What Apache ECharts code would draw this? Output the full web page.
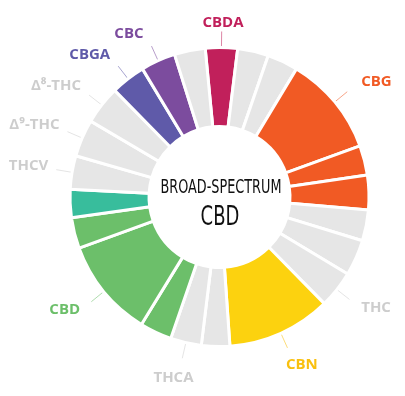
<!DOCTYPE html>
<html><head><meta charset="utf-8">
<script src="https://cdn.jsdelivr.net/npm/echarts@6/dist/echarts.min.js"></script>
<style>html,body{margin:0;padding:0;background:#fff}#c{width:405px;height:396px}</style>
</head><body><div id="c"></div>
<script>
// segments clockwise from the top (CBDA), angular share of each slice
const names = ['CBDA','g1','g2','CBG','CBG2','CBG3','g3','g4','THC','CBN','g5','THCA','CBD1','CBD','CBD2','teal','THCV','Δ⁹-THC','Δ⁸-THC','CBGA','CBC','g6'];
const values = [12.5,12,12,39,11.5,13.5,12,14,14.5,40.5,11,12,12.5,38.5,12,11,13,14.5,15,13.5,13.5,12];
const labels = ['CBDA','','','CBG','','','','','THC','CBN','','THCA','','CBD','','','THCV','Δ⁹-THC','Δ⁸-THC','CBGA','CBC',''];
const GRAY='#e6e6e6', ORANGE='#f15a24', GREEN='#6cbf6a';
const colors = ['#c1205b',GRAY,GRAY,ORANGE,ORANGE,ORANGE,GRAY,GRAY,GRAY,'#fcd20f',GRAY,GRAY,GREEN,GREEN,GREEN,'#38bd9c',GRAY,GRAY,GRAY,'#5f5aa9','#7c4c9e',GRAY];
const labelColors = {'CBDA':'#c1205b','CBG':'#f15a24','THC':'#cdcdcd','CBN':'#f9c00f','THCA':'#cdcdcd','CBD':'#6cbf6a','THCV':'#cdcdcd','Δ⁹-THC':'#cdcdcd','Δ⁸-THC':'#cdcdcd','CBGA':'#5f5aa9','CBC':'#7c4c9e'};
const centerTitle = 'BROAD-SPECTRUM';
const centerSub = 'CBD';

const data = values.map((v,i)=>{
  const lab = labels[i];
  const d = {name:names[i], value:v, itemStyle:{color:colors[i]}};
  if(lab){
    d.label = {show:true, formatter:lab, color:labelColors[lab]};
    d.labelLine = {show:true, lineStyle:{color:labelColors[lab], opacity:0.55}};
  } else {
    d.label = {show:false};
    d.labelLine = {show:false};
  }
  return d;
});

function placeLabel(p){
  const pts = p.labelLinePoints;
  if(!pts) return {};
  const a = pts[0], b = pts[1];
  let ux=b[0]-a[0], uy=b[1]-a[1];
  const L=Math.hypot(ux,uy)||1; ux/=L; uy/=L;
  const w=p.labelRect.width;
  let ox, oy;
  if(uy<0){
    const f = Math.min(1, Math.abs(ux)/0.35);
    const gap = ux<0 ? 8 : 14;
    ox = Math.sign(ux)*f*(gap + w/2);
    const k = 12 - 50*Math.max(0, Math.abs(uy)-0.9);
    oy = uy*k - 2;
  } else {
    ox = ux*(19 + w/2);
    oy = uy*(8 + 13*uy*uy);
  }
  return {x:b[0]+ox, y:b[1]+oy, align:'center', verticalAlign:'middle', labelLinePoints:pts};
}

const chart = echarts.init(document.getElementById('c'), null, {renderer:'canvas'});
chart.setOption({
  animation:false,
  backgroundColor:'#fff',
  graphic:[
    {type:'text', x:221, y:188, scaleX:0.75, style:{text:centerTitle, fontFamily:'"Liberation Sans Narrow","DejaVu Sans Condensed",sans-serif', fontSize:19, fill:'#111', align:'center', verticalAlign:'middle'}},
    {type:'text', x:220, y:218, scaleX:0.77, style:{text:centerSub, fontFamily:'"Liberation Sans Narrow","DejaVu Sans Condensed",sans-serif', fontSize:26, fill:'#111', align:'center', verticalAlign:'middle'}}
  ],
  series:[{
    type:'pie',
    radius:[70.5,149.5],
    center:[219.5,197],
    startAngle:95.5,
    clockwise:true,
    avoidLabelOverlap:false,
    emphasis:{disabled:true},
    itemStyle:{borderColor:'#fff', borderWidth:3},
    label:{position:'outside', fontFamily:'"Open Sans","DejaVu Sans",sans-serif', fontWeight:'bold', fontSize:15},
    labelLine:{length:16, length2:0, lineStyle:{width:1}},
    labelLayout:placeLabel,
    data:data
  }]
});
</script>
</body></html>
